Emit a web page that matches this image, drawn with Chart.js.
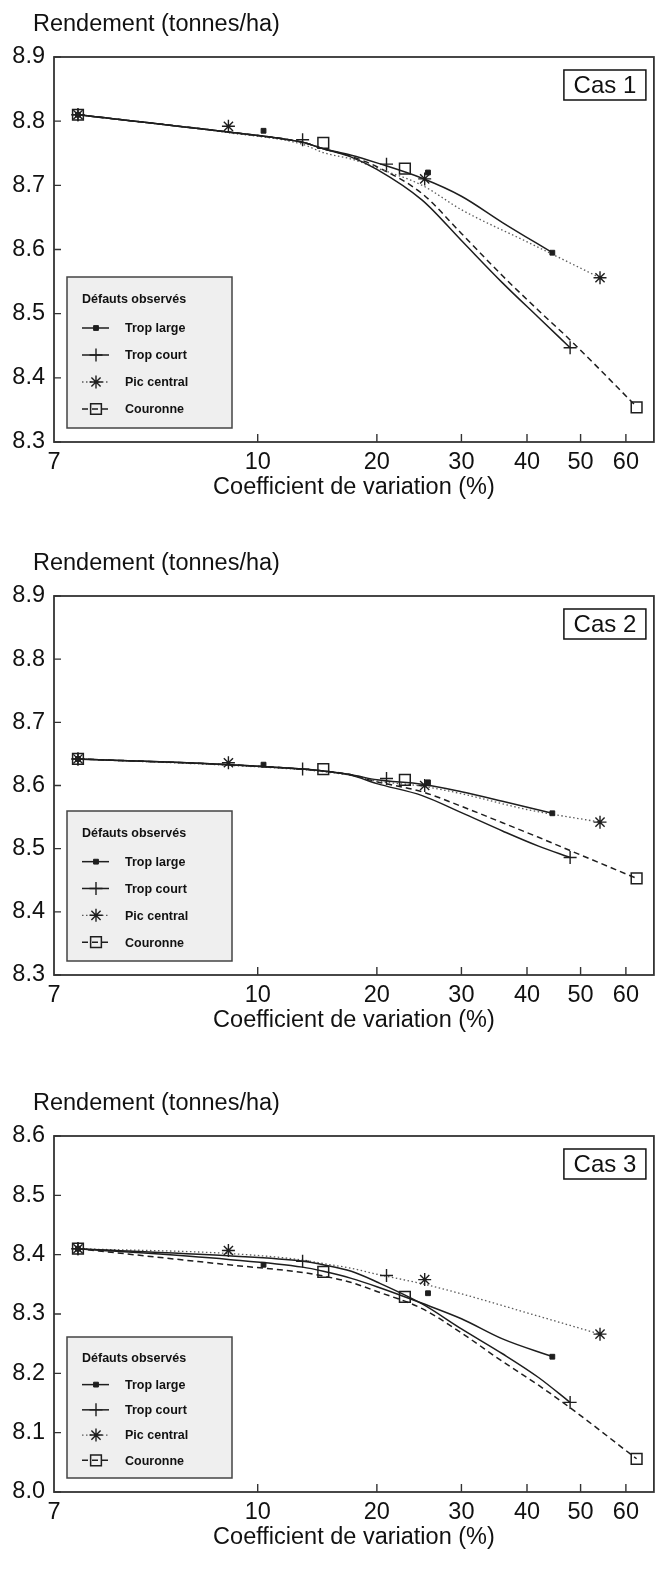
<!DOCTYPE html>
<html lang="fr">
<head>
<meta charset="utf-8">
<title>Rendement et coefficient de variation</title>
<script src="https://cdn.jsdelivr.net/npm/chart.js@4.4.1/dist/chart.umd.min.js"></script>
<style>
  html, body { margin: 0; padding: 0; background: #fff; }
  #page { position: relative; width: 663px; height: 1582px; }
  .panel { position: absolute; left: 0; width: 663px; }
</style>
</head>
<body>
<div id="page">
  <div class="panel" style="top:0;height:504px"><canvas id="cas1"></canvas></div>
  <div class="panel" style="top:539px;height:498px"><canvas id="cas2"></canvas></div>
  <div class="panel" style="top:1079px;height:475px"><canvas id="cas3"></canvas></div>
</div>
<script>
// =============================================================================
// Data (x = coefficient de variation %, y = t/ha)
// =============================================================================
const xTickValues = [7, 10, 20, 30, 40, 50, 60];
const yTicksCas1  = [8.3, 8.4, 8.5, 8.6, 8.7, 8.8, 8.9];
const yTicksCas2  = [8.3, 8.4, 8.5, 8.6, 8.7, 8.8, 8.9];
const yTicksCas3  = [8.0, 8.1, 8.2, 8.3, 8.4, 8.5, 8.6];

const seriesNames = ['Trop large', 'Trop court', 'Pic central', 'Couronne'];

// observed points (same CV values in the three cases)
const tropLargeX  = [7.3, 10.4, 25.7, 44.5];
const tropCourtX  = [7.3, 13.3, 21.0, 47.9];
const picCentralX = [7.3, 9.5, 25.3, 54.1];
const couronneX   = [7.3, 15.0, 23.0, 62.6];

const cas1TropLarge  = [8.81, 8.785, 8.720, 8.595];
const cas1TropCourt  = [8.81, 8.771, 8.733, 8.447];
const cas1PicCentral = [8.81, 8.792, 8.710, 8.556];
const cas1Couronne   = [8.81, 8.766, 8.726, 8.354];

const cas2TropLarge  = [8.642, 8.633, 8.605, 8.556];
const cas2TropCourt  = [8.642, 8.626, 8.611, 8.486];
const cas2PicCentral = [8.642, 8.636, 8.600, 8.542];
const cas2Couronne   = [8.642, 8.626, 8.609, 8.453];

const cas3TropLarge  = [8.41, 8.383, 8.335, 8.228];
const cas3TropCourt  = [8.41, 8.389, 8.365, 8.151];
const cas3PicCentral = [8.41, 8.407, 8.358, 8.266];
const cas3Couronne   = [8.41, 8.371, 8.329, 8.056];

// fitted curves, sampled along each line
const tropLargeCurveX  = [7.3, 9.5, 13.3, 15, 17.5, 20, 25, 30, 36, 44.5];
const tropCourtCurveX  = [7.3, 9.5, 13.3, 15, 17.5, 20, 25, 30, 36, 42, 47.9];
const picCentralCurveX = [7.3, 9.5, 13.3, 15, 17.5, 20, 25, 30, 40, 54.1];
const couronneCurveX   = [7.3, 9.5, 13.3, 15, 17.5, 20, 25, 30, 36, 42, 47.9, 62.6];

const cas1TropLargeCurve  = [8.81, 8.783, 8.767, 8.757, 8.747, 8.735, 8.711, 8.683, 8.642, 8.595];
const cas1TropCourtCurve  = [8.81, 8.783, 8.767, 8.757, 8.744, 8.725, 8.677, 8.614, 8.548, 8.494, 8.447];
const cas1PicCentralCurve = [8.81, 8.782, 8.764, 8.751, 8.741, 8.727, 8.700, 8.662, 8.612, 8.556];
const cas1CouronneCurve   = [8.81, 8.783, 8.767, 8.757, 8.745, 8.729, 8.687, 8.625, 8.559, 8.505, 8.459, 8.355];

const cas2TropLargeCurve  = [8.642, 8.633, 8.626, 8.623, 8.617, 8.609, 8.602, 8.590, 8.575, 8.556];
const cas2TropCourtCurve  = [8.642, 8.633, 8.626, 8.623, 8.616, 8.603, 8.584, 8.557, 8.528, 8.504, 8.486];
const cas2PicCentralCurve = [8.642, 8.632, 8.625, 8.622, 8.616, 8.607, 8.599, 8.587, 8.562, 8.542];
const cas2CouronneCurve   = [8.642, 8.633, 8.626, 8.623, 8.617, 8.606, 8.590, 8.567, 8.541, 8.518, 8.497, 8.453];

const cas3TropLargeCurve  = [8.41, 8.392, 8.379, 8.372, 8.360, 8.346, 8.318, 8.292, 8.258, 8.228];
const cas3TropCourtCurve  = [8.41, 8.398, 8.389, 8.383, 8.372, 8.354, 8.317, 8.275, 8.233, 8.193, 8.151];
const cas3PicCentralCurve = [8.41, 8.402, 8.391, 8.385, 8.377, 8.367, 8.351, 8.334, 8.302, 8.266];
const cas3CouronneCurve   = [8.41, 8.383, 8.370, 8.364, 8.353, 8.338, 8.309, 8.268, 8.220, 8.180, 8.142, 8.056];

// =============================================================================
// Styles
// =============================================================================
const C = {
  ink:    '#111111',
  line:   '#1e1e1e',
  dots:   '#5a5a5a',
  frame:  '#333333',
  legBg:  '#efefef',
};
const FONT = "'Liberation Sans', Arial, Helvetica, sans-serif";

Chart.defaults.font.family = FONT;
Chart.defaults.color = C.ink;

const STYLE = [
  { dash: [],         color: C.line, width: 1.5, point: 'rect',  radius: 3.4, fill: C.line,  bw: 1 },    // Trop large
  { dash: [],         color: C.line, width: 1.5, point: 'cross', radius: 6.5, fill: C.line,  bw: 1.4 },  // Trop court
  { dash: [1.5, 2.5], color: C.dots, width: 1.3, point: 'star',  radius: 6.5, fill: C.line,  bw: 1.4 },  // Pic central
  { dash: [6, 4],     color: C.line, width: 1.5, point: 'rect',  radius: 7.6, fill: 'rgba(0,0,0,0)', bw: 1.5 }, // Couronne
];

// =============================================================================
// X axis: the published axis is stretched between its origin (7) and 10,
// then follows log(CV + 10)
// =============================================================================
function cvWarp(v){
  if (v >= 10) return Math.log10(v + 10);
  return 1 + (Math.log10(20) - 1) * (Math.log10(v) - Math.log10(7)) / (1 - Math.log10(7));
}
function cvUnwarp(u){
  if (u >= Math.log10(20)) return Math.pow(10, u) - 10;
  return 7 * Math.pow(10, (u - 1) * (1 - Math.log10(7)) / (Math.log10(20) - 1));
}

class CvScale extends Chart.LinearScale {
  static id = 'cvlog';
  static defaults = {};
  buildTicks(){ return xTickValues.map(v => ({ value: v })); }
  configure(){
    super.configure();
    this._uMin = cvWarp(this.min);
    this._uMax = cvWarp(this.max);
  }
  getPixelForValue(v){
    return this.getPixelForDecimal((cvWarp(v) - this._uMin) / (this._uMax - this._uMin));
  }
  getValueForPixel(p){
    return cvUnwarp(this._uMin + this.getDecimalForPixel(p) * (this._uMax - this._uMin));
  }
}
Chart.register(CvScale);

// =============================================================================
// Frame, inward ticks, case label, y title, legend
// =============================================================================
const panelDecor = {
  id: 'panelDecor',
  afterDraw(chart, args, o){
    const { ctx, chartArea: a, scales: { x, y } } = chart;
    ctx.save();

    // inward tick marks
    ctx.strokeStyle = C.frame; ctx.lineWidth = 1.4; ctx.setLineDash([]);
    ctx.beginPath();
    y.ticks.forEach(t => { const py = y.getPixelForValue(t.value); ctx.moveTo(a.left, py); ctx.lineTo(a.left + 7, py); });
    x.ticks.forEach(t => { if (t.value <= x.min) return; const px = x.getPixelForValue(t.value); ctx.moveTo(px, a.bottom); ctx.lineTo(px, a.bottom - 8); });
    ctx.stroke();

    // frame
    ctx.lineWidth = 1.8;
    ctx.strokeRect(a.left, a.top, a.right - a.left, a.bottom - a.top);

    // y title
    ctx.fillStyle = C.ink;
    ctx.font = `23.5px ${FONT}`;
    ctx.textBaseline = 'middle'; ctx.textAlign = 'left';
    ctx.fillText('Rendement (tonnes/ha)', 33, a.top - 32);

    // case label
    const bw = 82, bh = 30, bx = a.right - 8 - bw, by = a.top + 13;
    ctx.fillStyle = '#fff'; ctx.fillRect(bx, by, bw, bh);
    ctx.strokeStyle = '#111'; ctx.lineWidth = 1.5; ctx.strokeRect(bx, by, bw, bh);
    ctx.fillStyle = C.ink; ctx.font = `24px ${FONT}`; ctx.textAlign = 'center';
    ctx.fillText(o.label, bx + bw / 2, by + bh / 2 + 1);

    // legend
    const lh = o.legendHeight, k = lh / 151;
    const lx = a.left + 13, lw = 165, ly = a.bottom - 14 - lh;
    ctx.fillStyle = C.legBg; ctx.fillRect(lx, ly, lw, lh);
    ctx.strokeStyle = '#444'; ctx.lineWidth = 1.5; ctx.strokeRect(lx, ly, lw, lh);
    ctx.fillStyle = C.ink; ctx.textAlign = 'left';
    ctx.font = `bold 12.5px ${FONT}`;
    ctx.fillText('Défauts observés', lx + 15, ly + 23 * k);
    seriesNames.forEach((name, i) => {
      const s = STYLE[i], ry = ly + (51 + 27 * i) * k;
      ctx.strokeStyle = s.color; ctx.lineWidth = s.width; ctx.setLineDash(s.dash);
      ctx.beginPath(); ctx.moveTo(lx + 15, ry); ctx.lineTo(lx + 42, ry); ctx.stroke();
      ctx.setLineDash([]);
      ctx.strokeStyle = C.line; ctx.fillStyle = s.fill; ctx.lineWidth = s.bw;
      Chart.helpers.drawPoint(ctx, { pointStyle: s.point, radius: s.radius, rotation: 0, borderWidth: s.bw }, lx + 29, ry);
      ctx.fillStyle = C.ink;
      ctx.fillText(name, lx + 58, ry + 1);
    });
    ctx.restore();
  }
};

// =============================================================================
// Panels
// =============================================================================
const pts = (xs, ys) => xs.map((x, i) => ({ x, y: ys[i] }));
const markX  = [tropLargeX, tropCourtX, picCentralX, couronneX];
const curveX = [tropLargeCurveX, tropCourtCurveX, picCentralCurveX, couronneCurveX];

function makePanel(canvasId, label, yTicks, marks, curves, legendHeight){
  const datasets = [];
  seriesNames.forEach((name, i) => {
    const s = STYLE[i];
    datasets.push({
      label: name + ' (courbe)',
      data: pts(curveX[i], curves[i]),
      showLine: true, pointRadius: 0,
      borderColor: s.color, borderWidth: s.width, borderDash: s.dash,
      cubicInterpolationMode: 'monotone',
      order: 2,
    });
    datasets.push({
      label: name,
      data: pts(markX[i], marks[i]),
      showLine: false,
      pointStyle: s.point, pointRadius: s.radius,
      pointBorderColor: C.line, pointBackgroundColor: s.fill, pointBorderWidth: s.bw,
      order: 1,
    });
  });

  new Chart(document.getElementById(canvasId), {
    type: 'scatter',
    data: { datasets },
    options: {
      responsive: true,
      maintainAspectRatio: false,
      animation: false,
      events: [],
      layout: { padding: { top: 57, right: 2, left: 0, bottom: 0 } },
      plugins: {
        legend: { display: false },
        tooltip: { enabled: false },
        panelDecor: { label, legendHeight },
      },
      scales: {
        x: {
          type: 'cvlog',
          min: 7, max: 67,
          grid: { display: false, drawTicks: false },
          border: { display: false },
          ticks: { autoSkip: false, maxRotation: 0, padding: 6, color: C.ink, font: { size: 23.5 },
                   callback: v => String(v) },
          title: { display: true, text: 'Coefficient de variation (%)', color: C.ink,
                   font: { size: 23.5 }, padding: { top: 0, bottom: 2 } },
          afterFit: sc => { sc.height = 62; },
        },
        y: {
          type: 'linear',
          min: yTicks[0], max: yTicks[yTicks.length - 1],
          grid: { display: false, drawTicks: false },
          border: { display: false },
          ticks: { autoSkip: false, padding: 9, color: C.ink, font: { size: 23.5 },
                   callback: v => v.toFixed(1) },
          afterBuildTicks: sc => { sc.ticks = yTicks.map(v => ({ value: v })); },
          afterFit: sc => { sc.width = 54; },
        },
      },
    },
    plugins: [panelDecor],
  });
}

makePanel('cas1', 'Cas 1', yTicksCas1,
  [cas1TropLarge, cas1TropCourt, cas1PicCentral, cas1Couronne],
  [cas1TropLargeCurve, cas1TropCourtCurve, cas1PicCentralCurve, cas1CouronneCurve], 151);
makePanel('cas2', 'Cas 2', yTicksCas2,
  [cas2TropLarge, cas2TropCourt, cas2PicCentral, cas2Couronne],
  [cas2TropLargeCurve, cas2TropCourtCurve, cas2PicCentralCurve, cas2CouronneCurve], 150);
makePanel('cas3', 'Cas 3', yTicksCas3,
  [cas3TropLarge, cas3TropCourt, cas3PicCentral, cas3Couronne],
  [cas3TropLargeCurve, cas3TropCourtCurve, cas3PicCentralCurve, cas3CouronneCurve], 141);
</script>
</body>
</html>
